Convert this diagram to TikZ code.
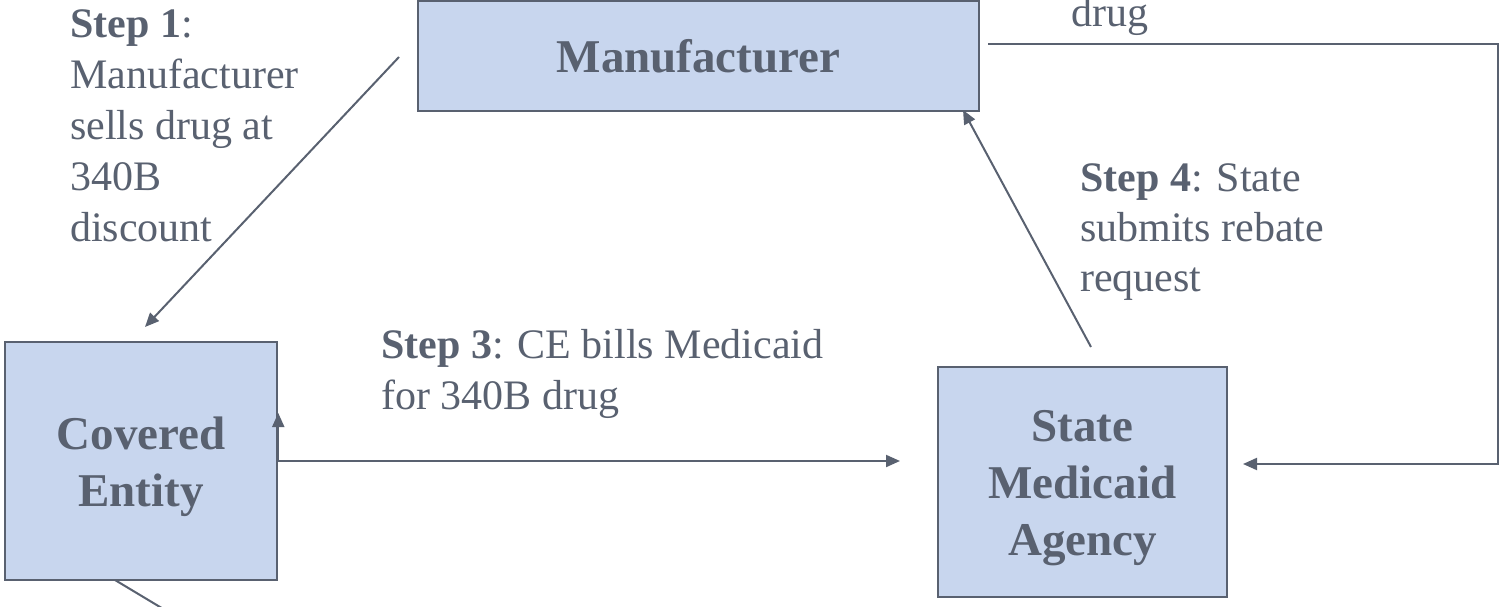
\documentclass[tikz,border=0pt]{standalone}
\usepackage{fontspec}
\setmainfont{Liberation Serif}
\usepackage{xcolor}
\usetikzlibrary{arrows.meta}
\definecolor{boxfill}{HTML}{C8D6EE}
\definecolor{inkgray}{HTML}{596170}
\newcommand{\lowstrut}{\rule{0pt}{44pt}}

\begin{document}
\begin{tikzpicture}[x=1pt,y=-1pt,
    box/.style={draw=inkgray, fill=boxfill, line width=2.5pt, text=inkgray,
        font=\fontsize{47}{57}\selectfont\bfseries, align=center, inner sep=0pt},
    steptxt/.style={text=inkgray, font=\fontsize{42}{51}\selectfont,
        align=left, anchor=base west, inner sep=0pt},
    flow/.style={draw=inkgray, line width=2pt, -{Triangle[length=14pt,width=12pt]}},
    plain/.style={draw=inkgray, line width=2pt}]
    \useasboundingbox (0,0) rectangle (1499,607);
    \clip (0,0) rectangle (1499,607);

    % boxes
    \node[box, minimum width=561pt, minimum height=110pt] (manu) at (698.5,56) {Manufacturer};
    \node[box, minimum width=272pt, minimum height=238pt] (ce) at (141,461) {\lowstrut Covered\\Entity};
    \node[box, minimum width=289pt, minimum height=230pt] (sma) at (1082.5,482) {\lowstrut State\\Medicaid\\Agency};

    % step labels (placed at the baseline of their last line)
    \node[steptxt] (step1) at (70,241) {\textbf{Step 1}:\\Manufacturer\\sells drug at\\340B\\discount};
    \node[steptxt] (step3) at (381,409) {\textbf{Step 3}: CE bills Medicaid\\for 340B drug};
    \node[steptxt, font=\fontsize{42}{50}\selectfont] (step4) at (1080,291) {\textbf{Step 4}: State\\submits rebate\\request};
    \node[steptxt] (drugtxt) at (1071,27) {drug};

    % Step 1: manufacturer to covered entity
    \coordinate (s1from) at (399,57);
    \coordinate (s1to) at (145,327);
    \draw[flow] (s1from) -- (s1to);

    % line leaving below the covered entity
    \coordinate (s2from) at (115,580);
    \coordinate (s2out) at (200,631);
    \draw[plain] (s2from) -- (s2out);
    \draw[flow] (ce.east) -- ++(0,-48);

    % Step 3: covered entity to state
    \coordinate (s3to) at (900,461);
    \draw[flow] (ce.east) -- (s3to);

    % Step 4: state to manufacturer
    \coordinate (s4from) at (1091,347);
    \coordinate (s4to) at (963,110);
    \draw[flow] (s4from) -- (s4to);

    % loop from manufacturer round to the state
    \coordinate (loopfrom) at (988,44);
    \coordinate (loopto) at (1243,464);
    \draw[flow] (loopfrom) -- (1498,44) -- (1498,464) -- (loopto);
\end{tikzpicture}
\end{document}
